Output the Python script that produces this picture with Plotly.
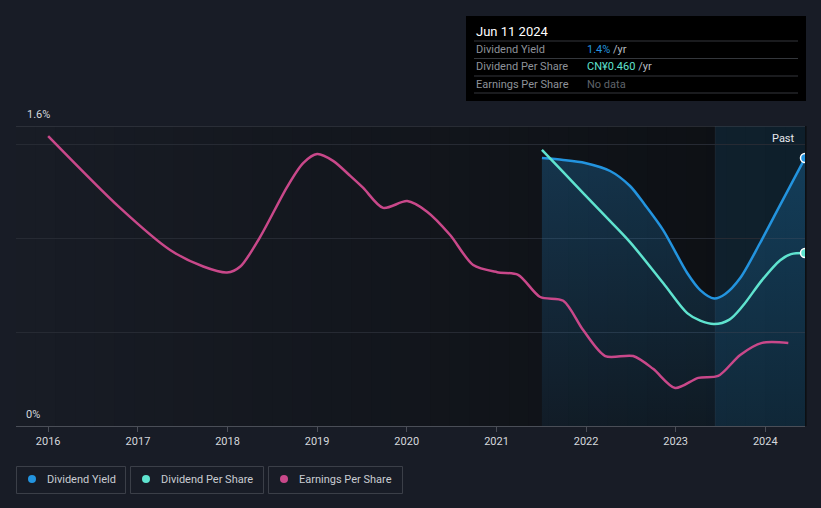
import plotly.graph_objects as go

# ---------------- data ----------------
dy_dates = ["2021-07-05", "2021-09-30", "2021-12-28", "2022-04-09", "2022-06-29",
            "2022-08-29", "2022-11-11", "2023-02-17", "2023-04-11", "2023-06-07",
            "2023-07-22", "2023-09-21", "2023-12-11", "2024-03-02", "2024-06-11"]
dy_values = [1.429, 1.419, 1.403, 1.360, 1.280, 1.179, 1.045, 0.816, 0.725, 0.680,
             0.704, 0.789, 0.976, 1.179, 1.429]

dps_dates = ["2021-07-05", "2021-09-30", "2021-12-28", "2022-04-09", "2022-06-29",
             "2022-11-11", "2023-02-17", "2023-04-11", "2023-06-07", "2023-08-08",
             "2023-10-01", "2023-12-19", "2024-03-02", "2024-04-15", "2024-06-11"]
dps_values = [0.734, 0.675, 0.614, 0.545, 0.489, 0.380, 0.300, 0.280, 0.271, 0.283,
              0.319, 0.388, 0.441, 0.457, 0.460]

eps_dates = ["2016-01-01", "2016-10-20", "2017-05-12", "2017-09-24", "2017-12-30",
             "2018-02-22", "2018-05-14", "2018-09-01", "2018-11-05", "2019-01-01",
             "2019-03-07", "2019-05-16", "2019-07-08", "2019-09-27", "2020-01-03",
             "2020-03-24", "2020-06-26", "2020-09-28", "2021-01-04", "2021-03-30",
             "2021-06-28", "2021-09-30", "2021-12-20", "2022-03-20", "2022-07-12",
             "2022-10-01", "2022-12-30", "2023-04-03", "2023-06-23", "2023-09-21",
             "2023-12-19", "2024-04-04"]
eps_values = [0.771, 0.580, 0.468, 0.424, 0.408, 0.424, 0.503, 0.636, 0.699, 0.723,
              0.705, 0.665, 0.633, 0.580, 0.598, 0.570, 0.508, 0.428, 0.409, 0.402,
              0.343, 0.333, 0.255, 0.186, 0.186, 0.152, 0.101, 0.128, 0.133, 0.189,
              0.221, 0.221]

x_range = ["2015-08-23", "2024-06-11"]
past_start = "2023-06-11"
y_labels = ["0%", "1.6%"]
legend_names = ["Dividend Yield", "Dividend Per Share", "Earnings Per Share"]
tooltip_date = "Jun 11 2024"
tooltip_rows = [("Dividend Yield", "1.4%", " /yr"),
                ("Dividend Per Share", "CN¥0.460", " /yr"),
                ("Earnings Per Share", "No data", "")]

# ---------------- style ----------------
BG = "#181c26"
BLUE = "#2394df"
TEAL = "#5fe3cf"
PINK = "#c9488a"
FONT = "Roboto"
W, H = 821, 508
L, R, T, B = 16, 16, 126, 82
PW, PH = W - L - R, H - T - B
Y_MAX = 1.6
Y2_MAX = 0.46 * 300 / 173


def px(x):
    return (x - L) / PW


def py(y):
    return (T + PH - y) / PH


fig = go.Figure()

fig.add_trace(go.Scatter(
    x=eps_dates, y=eps_values, mode="lines", yaxis="y3",
    line=dict(color=PINK, width=2.5, shape="spline", smoothing=0.8),
    name=legend_names[2], hoverinfo="skip"))

fig.add_trace(go.Scatter(
    x=dy_dates, y=dy_values, mode="lines", fill="tozeroy",
    fillgradient=dict(type="vertical", start=0, stop=1.45,
                      colorscale=[[0, "rgba(35,148,223,0.07)"], [1, "rgba(35,148,223,0.26)"]]),
    line=dict(color=BLUE, width=2.5, shape="spline", smoothing=0.8),
    name=legend_names[0], hoverinfo="skip"))

fig.add_trace(go.Scatter(
    x=dps_dates, y=dps_values, mode="lines", yaxis="y2",
    line=dict(color=TEAL, width=2.5, shape="spline", smoothing=0.9),
    name=legend_names[1], hoverinfo="skip"))

# end markers (clipped by the plot edge like the reference)
fig.add_trace(go.Scatter(
    x=dy_dates[-1:], y=dy_values[-1:], mode="markers", cliponaxis=True,
    marker=dict(size=9, color=BLUE, line=dict(color="white", width=1.5)),
    showlegend=False, hoverinfo="skip"))
fig.add_trace(go.Scatter(
    x=dps_dates[-1:], y=dps_values[-1:], mode="markers", yaxis="y2", cliponaxis=True,
    marker=dict(size=9, color=TEAL, line=dict(color="white", width=1.5)),
    showlegend=False, hoverinfo="skip"))

shapes = []
# plot background horizontal gradient
n = 40
c0 = (24, 28, 37)
c1 = (12, 15, 19)
for i in range(n):
    t = i / (n - 1)
    c = tuple(round(c0[k] + (c1[k] - c0[k]) * t) for k in range(3))
    shapes.append(dict(type="rect", xref="paper", yref="paper",
                       x0=i / n, x1=(i + 1) / n + 0.002, y0=0, y1=1,
                       fillcolor="rgb(%d,%d,%d)" % c, line=dict(width=0), layer="below"))
# past region
shapes.append(dict(type="rect", xref="x", yref="paper", x0=past_start, x1=x_range[1],
                   y0=0, y1=1, fillcolor="rgba(35,148,223,0.12)", line=dict(width=0),
                   layer="below"))
shapes.append(dict(type="line", xref="x", yref="paper", x0=past_start, x1=past_start,
                   y0=0, y1=1, line=dict(color="rgba(255,255,255,0.06)", width=1),
                   layer="below"))
# top line at 1.6
shapes.append(dict(type="line", xref="paper", yref="y", x0=0, x1=1, y0=Y_MAX, y1=Y_MAX,
                   line=dict(color="#41454e", width=1), layer="below"))

annotations = []
# y labels
annotations.append(dict(text=y_labels[1], xref="paper", yref="paper", x=px(25), y=py(114.5),
                        xanchor="left", yanchor="middle", showarrow=False,
                        font=dict(family=FONT, size=11, color="#d5d8dd")))
annotations.append(dict(text=y_labels[0], xref="paper", yref="paper", x=px(24), y=py(414),
                        xanchor="left", yanchor="middle", showarrow=False,
                        font=dict(family=FONT, size=11, color="#d5d8dd")))
annotations.append(dict(text="Past", xref="paper", yref="paper", x=px(797), y=py(138),
                        xanchor="right", yanchor="middle", showarrow=False,
                        font=dict(family=FONT, size=11, color="#e6e8eb")))

# tooltip box
shapes.append(dict(type="rect", xref="paper", yref="paper", x0=px(466), x1=px(806),
                   y0=py(16), y1=py(101), fillcolor="#000000", line=dict(width=0),
                   layer="above"))
for sy in [41, 58.5, 76, 93]:
    shapes.append(dict(type="line", xref="paper", yref="paper", x0=px(474), x1=px(798),
                       y0=py(sy), y1=py(sy), line=dict(color="#34373c", width=1),
                       layer="above"))
annotations.append(dict(text=tooltip_date, xref="paper", yref="paper", x=px(474), y=py(31.5),
                        xanchor="left", yanchor="middle", showarrow=False,
                        font=dict(family=FONT, size=13, color="#ffffff")))
row_colors = [BLUE, TEAL, "#5f636a"]
for i, (lab, val, unit) in enumerate(tooltip_rows):
    yy = [49.3, 66.3, 84][i]
    annotations.append(dict(text=lab, xref="paper", yref="paper", x=px(474), y=py(yy),
                            xanchor="left", yanchor="middle", showarrow=False,
                            font=dict(family=FONT, size=11, color="#8e9299")))
    txt = "<span style='color:%s'>%s</span>%s" % (row_colors[i], val, unit)
    annotations.append(dict(text=txt, xref="paper", yref="paper", x=px(585), y=py(yy),
                            xanchor="left", yanchor="middle", showarrow=False,
                            font=dict(family=FONT, size=11, color="#b9bcc1")))

# legend boxes
leg_boxes = [(16.5, 125.5), (130.5, 263.5), (268.5, 402.5)]
leg_dots = [32, 146, 284]
leg_text = [44.5, 158.5, 296.5]
leg_colors = [BLUE, TEAL, PINK]
for i in range(3):
    shapes.append(dict(type="rect", xref="paper", yref="paper",
                       x0=px(leg_boxes[i][0]), x1=px(leg_boxes[i][1]),
                       y0=py(466.5), y1=py(493.5), fillcolor="rgba(0,0,0,0)",
                       line=dict(color="#3b3f48", width=1), layer="above"))
    shapes.append(dict(type="circle", xref="paper", yref="paper",
                       x0=px(leg_dots[i] - 4), x1=px(leg_dots[i] + 4),
                       y0=py(483), y1=py(475), fillcolor=leg_colors[i],
                       line=dict(width=0), layer="above"))
    annotations.append(dict(text=legend_names[i], xref="paper", yref="paper",
                            x=px(leg_text[i]), y=py(479.5), xanchor="left", yanchor="middle",
                            showarrow=False,
                            font=dict(family=FONT, size=11, color="#c9ccd2")))

fig.update_layout(
    width=W, height=H,
    margin=dict(l=L, r=R, t=T, b=B),
    paper_bgcolor=BG, plot_bgcolor=BG,
    showlegend=False,
    font=dict(family=FONT, color="#d5d8dd"),
    xaxis=dict(type="date", range=x_range, dtick="M12", tick0="2016-01-01",
               tickformat="%Y", showgrid=False, zeroline=False,
               showline=True, linecolor="#4a4e57", linewidth=1,
               ticks="outside", ticklen=5, tickcolor="#4a4e57",
               tickfont=dict(family=FONT, size=11, color="#d5d8dd")),
    yaxis=dict(range=[0, Y_MAX], tickvals=[0.5, 1.0, 1.5], showticklabels=False,
               showgrid=True, gridcolor="#262a33", gridwidth=1, zeroline=False,
               fixedrange=True),
    yaxis2=dict(range=[0, Y2_MAX], overlaying="y", visible=False, showgrid=False),
    yaxis3=dict(range=[0, Y2_MAX], overlaying="y", visible=False, showgrid=False),
    shapes=shapes,
    annotations=annotations,
)

fig.write_html("out.html")
